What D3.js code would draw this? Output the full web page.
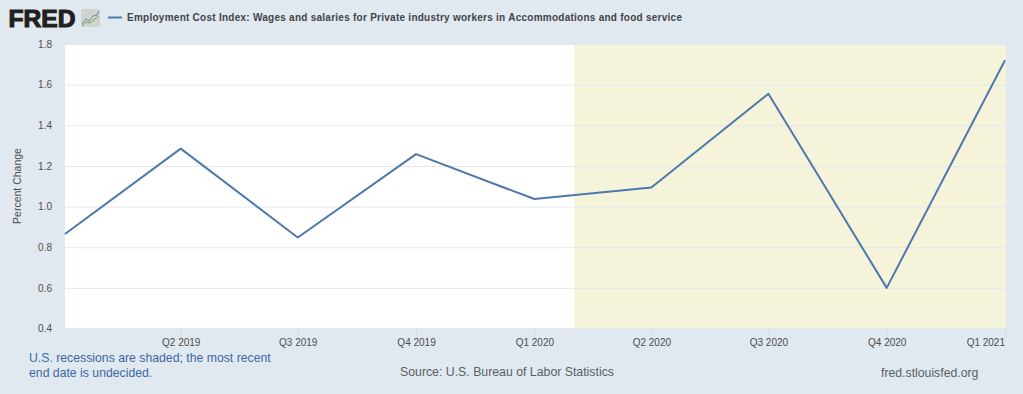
<!DOCTYPE html>
<html>
<head>
<meta charset="utf-8">
<script src="https://cdn.jsdelivr.net/npm/d3@7"></script>
<style>
  html, body { margin: 0; padding: 0; background: #e1e9f0; }
  svg { display: block; font-family: "Liberation Sans", Arial, sans-serif; }
</style>
</head>
<body>
<div id="chart"></div>
<script>
// Quarterly percent change
const dates = ["2019-01-01", "2019-04-01", "2019-07-01", "2019-10-01", "2020-01-01", "2020-04-01", "2020-07-01", "2020-10-01", "2021-01-01"];
const values = [0.865, 1.285, 0.848, 1.258, 1.037, 1.094, 1.555, 0.6, 1.72];
const tickDates = dates.slice(1);
const tickLabels = ["Q2 2019", "Q3 2019", "Q4 2019", "Q1 2020", "Q2 2020", "Q3 2020", "Q4 2020", "Q1 2021"];
const yTicks = [0.4, 0.6, 0.8, 1.0, 1.2, 1.4, 1.6, 1.8];
const recession = ["2020-02-01", "2021-01-02"];

const width = 1023;
const height = 394;
const margin = { top: 44, right: 17, bottom: 66, left: 65 };

const parseDate = d3.timeParse("%Y-%m-%d");

const svg = d3.select("#chart").append("svg").attr("width", width).attr("height", height);

svg.append("rect").attr("width", width).attr("height", height).attr("fill", "#e1e9f0");

const xScale = d3
  .scaleUtc()
  .domain([Date.UTC(2019, 0, 1), Date.UTC(2021, 0, 1)])
  .range([margin.left, 1005]);

const yScale = d3
  .scaleLinear()
  .domain([0.4, 1.8])
  .range([height - margin.bottom + 0.5, margin.top]);

const toUtc = (s) => {
  const d = parseDate(s);
  return Date.UTC(d.getFullYear(), d.getMonth(), d.getDate());
};

// plot background
svg
  .append("rect")
  .attr("x", margin.left)
  .attr("y", margin.top)
  .attr("width", width - margin.right - margin.left)
  .attr("height", height - margin.top - margin.bottom)
  .attr("fill", "#ffffff");

// recession band
svg
  .append("rect")
  .attr("x", xScale(toUtc(recession[0])))
  .attr("y", margin.top)
  .attr("width", width - margin.right - xScale(toUtc(recession[0])))
  .attr("height", height - margin.top - margin.bottom)
  .attr("fill", "#f5f4db");

// y axis with gridlines
const yAxis = d3
  .axisLeft(yScale)
  .tickValues(yTicks)
  .tickFormat(d3.format(".1f"))
  .tickSize(0)
  .tickPadding(13);

const yG = svg.append("g").attr("transform", `translate(${margin.left}, 0)`).call(yAxis);
yG.select(".domain").remove();
yG.selectAll("text").attr("fill", "#4d4d4d").attr("font-size", 10);
yG
  .selectAll(".tick")
  .append("line")
  .attr("x1", 0)
  .attr("x2", width - margin.right - margin.left)
  .attr("stroke", "#e3e7ec")
  .attr("stroke-width", 1);

// x axis
const xAxis = d3
  .axisBottom(xScale)
  .tickValues(tickDates.map(toUtc))
  .tickFormat((d, i) => tickLabels[i])
  .tickSize(10)
  .tickPadding(1);

const xG = svg.append("g").attr("transform", `translate(0, ${height - margin.bottom})`).call(xAxis);
xG.select(".domain").remove();
xG.selectAll("line").attr("stroke", "#d3dfea");
xG.selectAll("text").attr("fill", "#4d4d4d").attr("font-size", 10);
xG.selectAll(".tick:last-child text").attr("text-anchor", "end").attr("dx", "-0.05em");

// series
const line = d3
  .line()
  .x((d, i) => xScale(toUtc(dates[i])))
  .y((d) => yScale(d));

svg
  .append("path")
  .datum(values)
  .attr("d", line)
  .attr("fill", "none")
  .attr("stroke", "#4e78ab")
  .attr("stroke-width", 2)
  .attr("stroke-linejoin", "round");

// y axis title
svg
  .append("text")
  .attr("transform", "translate(20.5, 186) rotate(-90)")
  .attr("text-anchor", "middle")
  .attr("fill", "#4d4d4d")
  .attr("font-size", 10.5)
  .text("Percent Change");

// header
svg
  .append("text")
  .attr("x", 8.5)
  .attr("y", 27)
  .attr("fill", "#231f20")
  .attr("font-size", 24)
  .attr("font-weight", 700)
  .attr("stroke", "#231f20")
  .attr("stroke-width", 1.1)
  .attr("textLength", 67)
  .attr("lengthAdjust", "spacingAndGlyphs")
  .text("FRED");

const icon = svg.append("g").attr("transform", "translate(81, 9)");
icon.append("rect").attr("width", 19).attr("height", 18).attr("rx", 1.5).attr("fill", "#d0d4cc");
icon
  .append("path")
  .attr("d", "M1,15 L5,10 L8,12 L13,6 L15,7 L18,2")
  .attr("fill", "none")
  .attr("stroke", "#5f86ad")
  .attr("stroke-width", 1);
icon
  .append("path")
  .attr("d", "M1,17 L5,13 L9,14 L14,10 L18,7")
  .attr("fill", "none")
  .attr("stroke", "#7fa25a")
  .attr("stroke-width", 1);

svg
  .append("line")
  .attr("x1", 108)
  .attr("x2", 122)
  .attr("y1", 17.5)
  .attr("y2", 17.5)
  .attr("stroke", "#4e78ab")
  .attr("stroke-width", 2);

svg
  .append("text")
  .attr("x", 127)
  .attr("y", 21)
  .attr("fill", "#3f4448")
  .attr("font-size", 10)
  .attr("font-weight", 700)
  .attr("textLength", 555)
  .attr("lengthAdjust", "spacing")
  .text("Employment Cost Index: Wages and salaries for Private industry workers in Accommodations and food service");

// footer
const note = svg.append("g").attr("fill", "#3c68a5").attr("font-size", 12.25);
note.append("text").attr("x", 29).attr("y", 362).text("U.S. recessions are shaded; the most recent");
note.append("text").attr("x", 29).attr("y", 377).text("end date is undecided.");

svg
  .append("text")
  .attr("x", 400)
  .attr("y", 376)
  .attr("fill", "#5a5f63")
  .attr("font-size", 12.3)
  .text("Source: U.S. Bureau of Labor Statistics");

svg
  .append("text")
  .attr("x", 881)
  .attr("y", 377)
  .attr("fill", "#5a5f63")
  .attr("font-size", 12.25)
  .text("fred.stlouisfed.org");
</script>
</body>
</html>
